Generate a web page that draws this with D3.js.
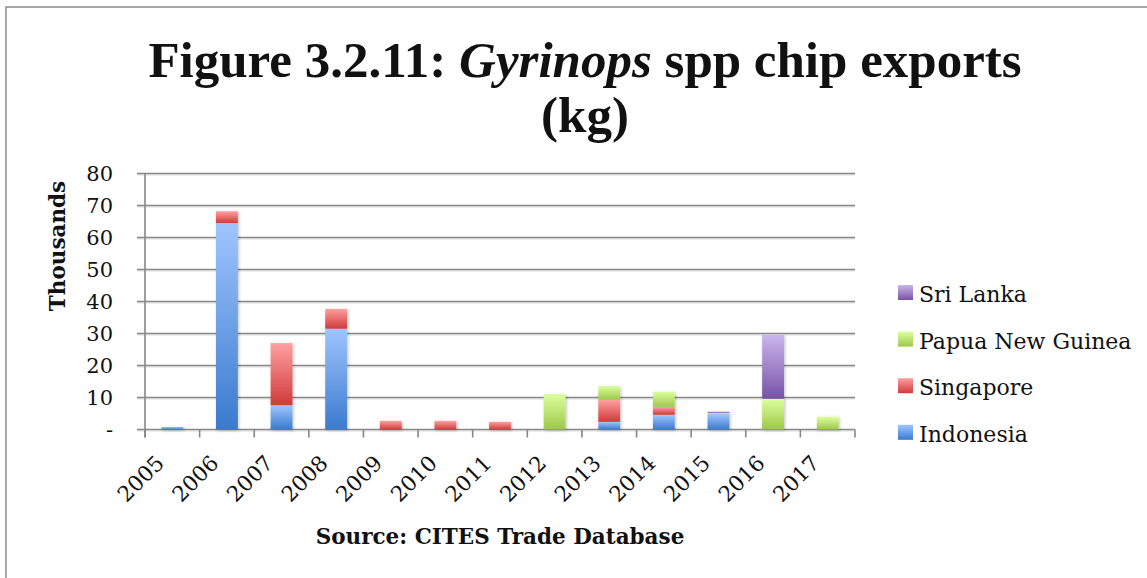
<!DOCTYPE html>
<html lang="en">
<head>
	<meta charset="UTF-8">
	<title>Gyrinops chip exports</title>
	<script src="https://d3js.org/d3.v7.min.js"></script>
	<style>
		body { margin: 0; background: #fff; }
		text { font-family: "DejaVu Serif", serif; fill: #111; }
		.title { font-family: "Liberation Serif", serif; }
	</style>
</head>
<body>
	<script>
		// values in thousands of kg
		var years = ['2005', '2006', '2007', '2008', '2009', '2010', '2011', '2012', '2013', '2014', '2015', '2016', '2017'];
		var indonesia = [0.8, 64.5, 7.6, 31.5, 0, 0, 0, 0, 2.4, 4.6, 4.8, 0, 0];
		var singapore = [0, 3.7, 19.4, 6.2, 2.7, 2.7, 2.4, 0, 6.9, 2.5, 0, 0, 0];
		var png = [0, 0, 0, 0, 0, 0, 0, 11.1, 4.3, 4.7, 0.4, 9.6, 4.0];
		var sriLanka = [0, 0, 0, 0, 0, 0, 0, 0, 0, 0, 0.4, 20.0, 0];
		var seriesNames = ['Indonesia', 'Singapore', 'Papua New Guinea', 'Sri Lanka'];
		var yTicks = [0, 10, 20, 30, 40, 50, 60, 70, 80];

		var colors = [
			['#9fc5ff', '#3a7acd'],
			['#ffa0a0', '#d03a3a'],
			['#ddff9e', '#9cc84a'],
			['#cab5ec', '#7853a6']
		];

		var W = 1147, H = 578;
		var svg = d3.select("body").append("svg").attr("width", W).attr("height", H);
		var defs = svg.append("defs");

		colors.forEach(function (c, i) {
			var g = defs.append("linearGradient").attr("id", "grad" + i)
				.attr("x1", 0).attr("y1", 0).attr("x2", 0).attr("y2", 1);
			g.append("stop").attr("offset", "0%").attr("stop-color", c[0]);
			g.append("stop").attr("offset", "100%").attr("stop-color", c[1]);
		});
		var sh = defs.append("filter").attr("id", "shadow").attr("x", "-30%").attr("y", "-10%").attr("width", "160%").attr("height", "120%");
		sh.append("feDropShadow").attr("dx", 1).attr("dy", 1).attr("stdDeviation", 1.5).attr("flood-color", "#000").attr("flood-opacity", 0.25);

		// outer frame (right and bottom fall outside the picture)
		svg.append("rect").attr("x", 6).attr("y", 7).attr("width", W + 20).attr("height", H + 20)
			.attr("fill", "none").attr("stroke", "#8c8c8c").attr("stroke-width", 1.5);

		var plotLeft = 145, plotRight = 855, plotTop = 173.5, plotBottom = 429.5;

		var x = d3.scaleBand().domain(years).range([plotLeft, plotRight]).paddingInner(0.6).paddingOuter(0.3);
		var xb = d3.scaleBand().domain(years).range([plotLeft, plotRight]);
		var y = d3.scaleLinear().domain([0, 80]).range([plotBottom, plotTop]);

		// gridlines
		var grid = svg.append("g");
		yTicks.forEach(function (t) {
			grid.append("line").attr("x1", plotLeft - 8).attr("x2", plotRight)
				.attr("y1", y(t) + 1.5).attr("y2", y(t) + 1.5)
				.attr("stroke", "#dcdcdc").attr("stroke-width", 1.2);
			grid.append("line").attr("x1", plotLeft - 8).attr("x2", plotRight)
				.attr("y1", y(t)).attr("y2", y(t))
				.attr("stroke", "#878787").attr("stroke-width", 1.6);
		});
		grid.append("line").attr("x1", plotLeft).attr("x2", plotLeft).attr("y1", plotTop).attr("y2", plotBottom + 8)
			.attr("stroke", "#878787").attr("stroke-width", 1.6);
		years.concat(['end']).forEach(function (yr, i) {
			var px = i < years.length ? xb(yr) : plotRight;
			grid.append("line").attr("x1", px).attr("x2", px).attr("y1", plotBottom).attr("y2", plotBottom + 8)
				.attr("stroke", "#878787").attr("stroke-width", 1.6);
		});

		// stacked bars
		var rows = years.map(function (yr, i) {
			return { year: yr, Indonesia: indonesia[i], Singapore: singapore[i], 'Papua New Guinea': png[i], 'Sri Lanka': sriLanka[i] };
		});
		var stack = d3.stack().keys(seriesNames)(rows);
		var bars = svg.append("g").attr("filter", "url(#shadow)");
		stack.forEach(function (layer, si) {
			layer.forEach(function (d) {
				if (d[1] - d[0] <= 0) return;
				bars.append("rect")
					.attr("x", x(d.data.year))
					.attr("width", x.bandwidth())
					.attr("y", y(d[1]))
					.attr("height", y(d[0]) - y(d[1]))
					.attr("fill", "url(#grad" + si + ")");
			});
		});

		// y labels
		svg.append("g").selectAll("text").data(yTicks).enter().append("text")
			.attr("x", 113).attr("y", function (d) { return y(d) + 7.5; })
			.attr("text-anchor", "end").attr("font-size", 21)
			.text(function (d) { return d === 0 ? "-" : d; });

		// x labels
		svg.append("g").selectAll("text").data(years).enter().append("text")
			.attr("text-anchor", "end").attr("font-size", 21.5)
			.attr("transform", function (d) { return "translate(" + (xb(d) + xb.bandwidth() / 2 - 7) + "," + (plotBottom + 35) + ") rotate(-45)"; })
			.text(function (d) { return d; });

		// axis titles
		svg.append("text").attr("transform", "translate(65,246) rotate(-90)")
			.attr("text-anchor", "middle").attr("font-size", 21.5).attr("font-weight", "bold")
			.text("Thousands");
		svg.append("text").attr("x", 500).attr("y", 544)
			.attr("text-anchor", "middle").attr("font-size", 21.5).attr("font-weight", "bold")
			.text("Source: CITES Trade Database");

		// title
		var t1 = svg.append("text").attr("class", "title").attr("x", 585).attr("y", 77)
			.attr("text-anchor", "middle").attr("font-size", 51).attr("font-weight", "bold");
		t1.append("tspan").text("Figure 3.2.11: ");
		t1.append("tspan").attr("font-style", "italic").text("Gyrinops");
		t1.append("tspan").text(" spp chip exports");
		svg.append("text").attr("class", "title").attr("x", 585).attr("y", 132)
			.attr("text-anchor", "middle").attr("font-size", 51).attr("font-weight", "bold")
			.text("(kg)");

		// legend
		var legendOrder = ['Sri Lanka', 'Papua New Guinea', 'Singapore', 'Indonesia'];
		var lg = svg.append("g");
		legendOrder.forEach(function (name, i) {
			var base = 302 + i * 46.6;
			var si = seriesNames.indexOf(name);
			lg.append("rect").attr("x", 898).attr("y", base - 17).attr("width", 15).attr("height", 15)
				.attr("fill", "url(#grad" + si + ")");
			lg.append("text").attr("x", 919).attr("y", base).attr("font-size", 22).text(name);
		});
	</script>
</body>
</html>
